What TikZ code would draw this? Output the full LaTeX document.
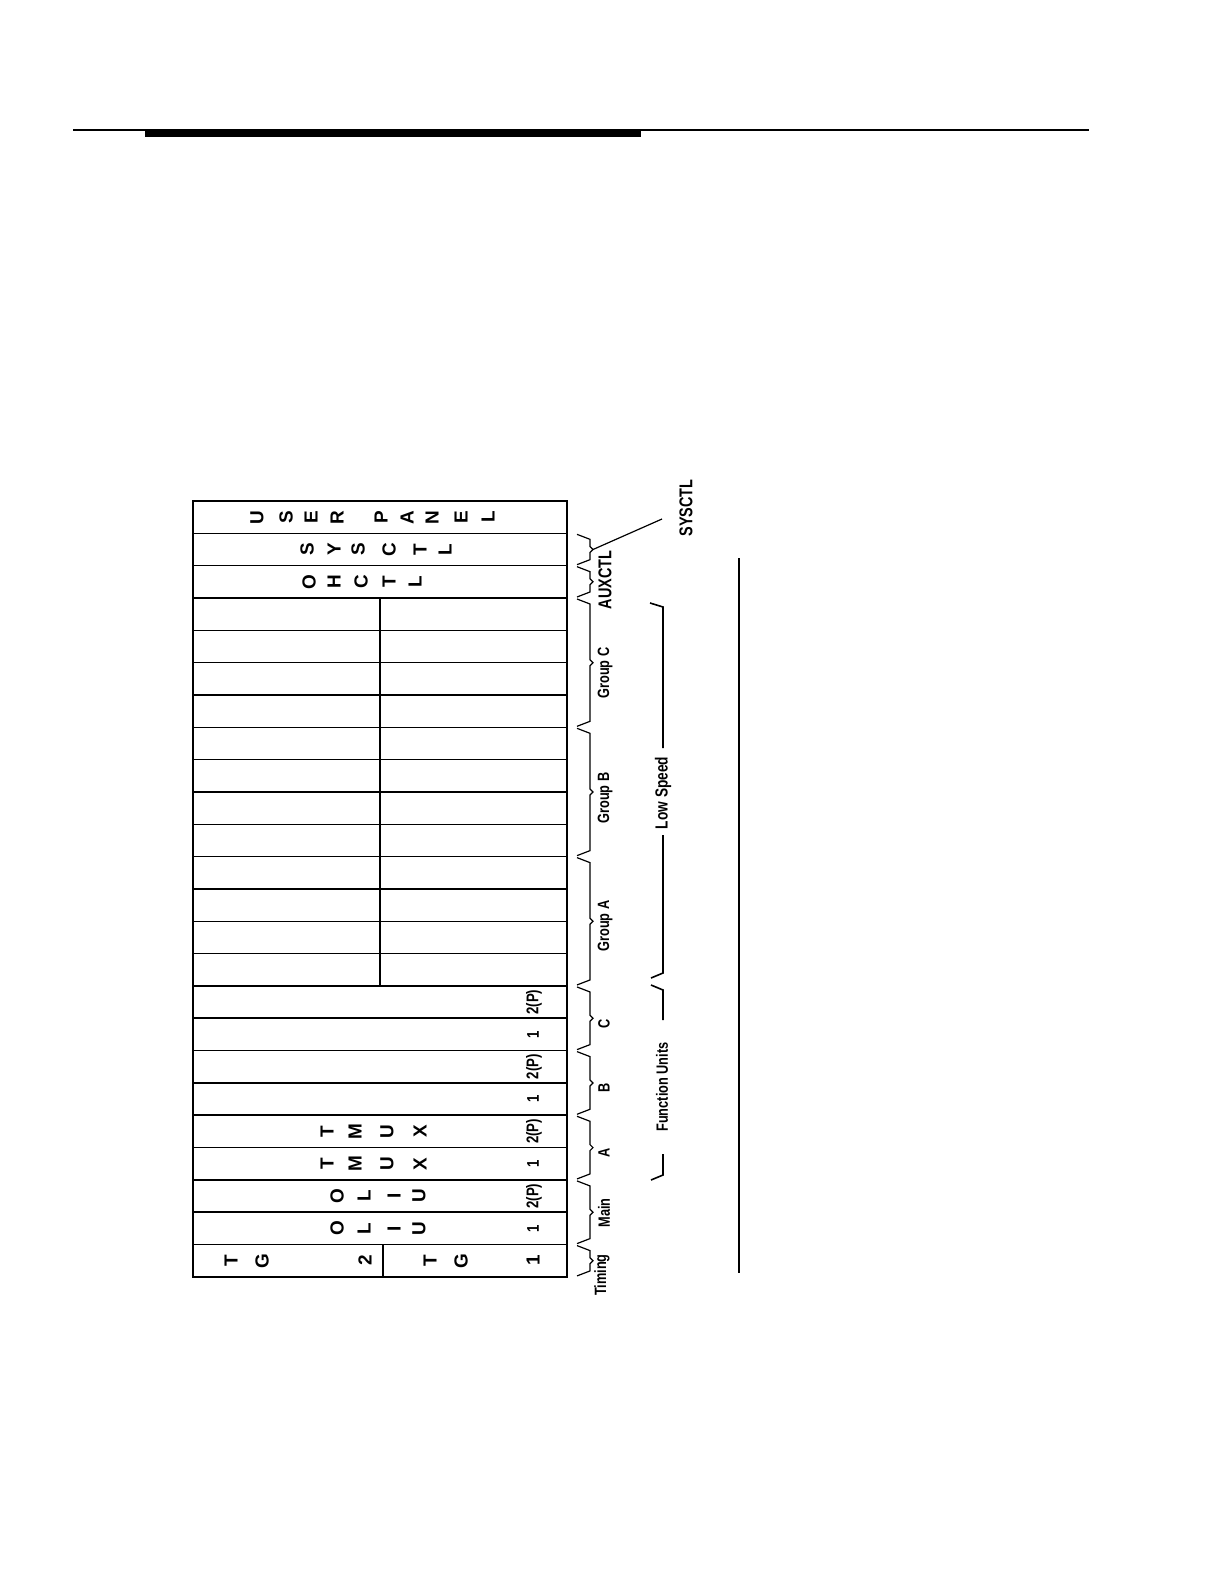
\documentclass[tikz,border=0pt]{standalone}
\usepackage{fontspec}
\newfontfamily\labelfont[FakeStretch=0.78]{Liberation Sans}
\newfontfamily\slotfont{Liberation Sans}
\tikzset{
  letter/.style={rotate=90, inner sep=0pt, font=\slotfont\bfseries\fontsize{9.5}{10}\selectfont},
  slotnum/.style={rotate=90, inner sep=0pt, font=\labelfont\bfseries\fontsize{8.5}{9}\selectfont},
  grouplabel/.style={rotate=90, inner sep=0pt, font=\labelfont\bfseries\fontsize{8.2}{9}\selectfont},
  ctllabel/.style={rotate=90, inner sep=0pt, font=\labelfont\bfseries\fontsize{9.3}{10}\selectfont},
}
\begin{document}
\begin{tikzpicture}[x=0.5bp, y=-0.5bp, line width=0.8bp]
      \useasboundingbox (0,0) rectangle (1224,1584);
      % page rule
      \draw[line width=1bp] (73,129.5) -- (1089,129.5);
      \fill (145,129) rectangle (641,137);
      % shelf
      \draw[line width=1.4bp] (193,501) rectangle (567,1277);
      \foreach \k in {1,...,23}
        \draw (193,{501+32.33*\k}) -- (567,{501+32.33*\k});
      \draw (380,{501+32.33*3}) -- (380,{501+32.33*15});
      \draw (383,{501+32.33*23}) -- (383,1277);
      % slot letters
      \foreach \ch/\x [count=\i] in {U/257,S/286,E/311,R/337,P/381,A/407,N/432,E/461,L/488}
        \node[letter] (up\i) at (\x,517.2) {\ch};
      \foreach \ch/\x [count=\i] in {S/307,Y/334,S/358,C/389,T/420,L/445}
        \node[letter] (sc\i) at (\x,549.5) {\ch};
      \foreach \ch/\x [count=\i] in {O/309,H/334,C/361,T/389,L/415}
        \node[letter] (oc\i) at (\x,581.8) {\ch};
      \foreach \ch/\x [count=\i] in {T/327,M/355,U/387,X/420} {
        \node[letter] (tmuxb\i) at (\x,1131.4) {\ch};
        \node[letter] (tmuxa\i) at (\x,1163.8) {\ch};
      }
      \foreach \ch/\x [count=\i] in {O/337,L/364,I/394,U/419} {
        \node[letter] (oliub\i) at (\x,1196.1) {\ch};
        \node[letter] (oliua\i) at (\x,1228.4) {\ch};
      }
      \foreach \ch/\x [count=\i] in {T/231,G/262,2/365,T/430,G/461,1/533}
        \node[letter] (tg\i) at (\x,1260.7) {\ch};
      % slot numbers
      \foreach \r in {16,18,20,22}
        \node[slotnum] (two\r) at (534,{501+32.33*(\r-0.5)}) {2(P)};
      \foreach \r in {17,19,21,23}
        \node[slotnum] (one\r) at (533,{501+32.33*(\r-0.5)}) {1};
      % braces
      \foreach \a/\b in {1/2,2/3,3/7,7/11,11/15,15/17,17/19,19/21,21/23,23/24} {
        \pgfmathsetmacro\ya{501+32.33*\a}
        \pgfmathsetmacro\yb{501+32.33*\b}
        \pgfmathsetmacro\ym{(\ya+\yb)/2}
        \draw[line width=0.6bp] (577,{\ya+1}) -- (590,{\ya+6}) -- (590,{\ym-3}) -- (593,\ym)
          -- (590,{\ym+3}) -- (590,{\yb-6}) -- (577,{\yb-1});
      }
      \coordinate (systip) at (593,549.5);
      \coordinate (sysend) at (662,519);
      \node[ctllabel] (sysctl) at (686,508) {SYSCTL};
      \draw[line width=0.6bp] (systip) -- (sysend);
      \node[ctllabel] (auxctl) at (605,580) {AUXCTL};
      \node[grouplabel] (grpc) at (605,673) {Group C};
      \node[grouplabel] (grpb) at (605,798) {Group B};
      \node[grouplabel] (grpa) at (605,926) {Group A};
      \node[grouplabel] (fuc) at (604,1024) {C};
      \node[grouplabel] (fub) at (604,1088) {B};
      \node[grouplabel] (fua) at (604,1153) {A};
      \node[grouplabel] (main) at (604,1213) {Main};
      \node[grouplabel] (timing) at (602,1275) {Timing};
      % outer brackets
      \node[grouplabel, font=\labelfont\bfseries\fontsize{8.8}{9}\selectfont] (lowspeed) at (663,793) {Low Speed};
      \draw (650,603) -- (663,607) -- (663,748);
      \draw (663,835) -- (663,973) -- (651,978);
      \node[grouplabel] (funits) at (662,1087) {Function Units};
      \draw (651,985) -- (663,990) -- (663,1020);
      \draw (663,1154) -- (663,1175) -- (651,1180);
      \draw[line width=0.6bp] (739,558) -- (739,1273);
    \end{tikzpicture}
\end{document}
